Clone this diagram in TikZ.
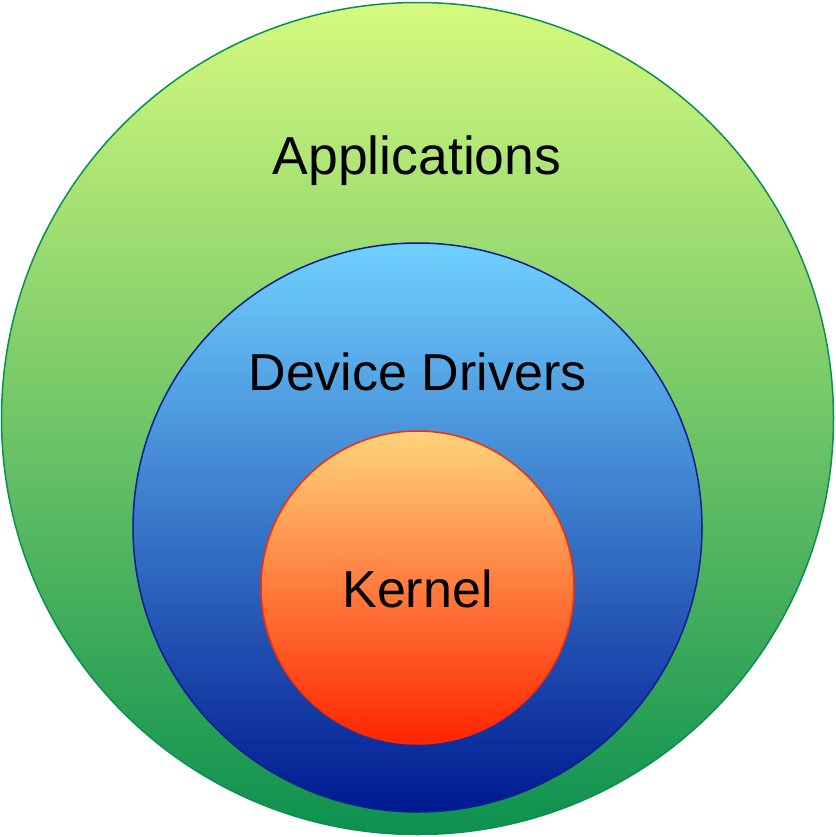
\documentclass[tikz,border=0pt]{standalone}
\usepackage{fontspec}
\setmainfont{Liberation Sans}
\definecolor{gTop}{HTML}{D6FA7E}
\definecolor{gBot}{HTML}{0C9150}
\definecolor{gLine}{HTML}{0B9050}
\definecolor{bTop}{HTML}{6FD1FF}
\definecolor{bBot}{HTML}{001990}
\definecolor{bLine}{HTML}{0A1E90}
\definecolor{rTop}{HTML}{FFD47A}
\definecolor{rBot}{HTML}{FF2400}
\definecolor{rLine}{HTML}{FF2A00}
\begin{document}
\begin{tikzpicture}[x=1pt,y=-1pt,
  ring/.style={circle,inner sep=0pt,line width=1.5pt},
  lbl/.style={font=\fontsize{52}{60}\selectfont,text=black}]
\useasboundingbox (0,0) rectangle (835,837);
\node[ring,draw=gLine,top color=gTop,bottom color=gBot,minimum size=832pt] (apps) at (417.5,418.5) {};
\node[ring,draw=bLine,top color=bTop,bottom color=bBot,minimum size=569pt] (drv) at (417.5,527.5) {};
\node[ring,draw=rLine,top color=rTop,bottom color=rBot,minimum size=313pt] (kern) at (417.5,587.5) {};
\node[lbl,font=\fontsize{53.5}{60}\selectfont] (tapps) at (417,161) {Applications};
\node[lbl] (tdrv) at (417.5,372) {Device Drivers};
\node[lbl] (tkern) at (417.5,589) {Kernel};
\end{tikzpicture}
\end{document}
